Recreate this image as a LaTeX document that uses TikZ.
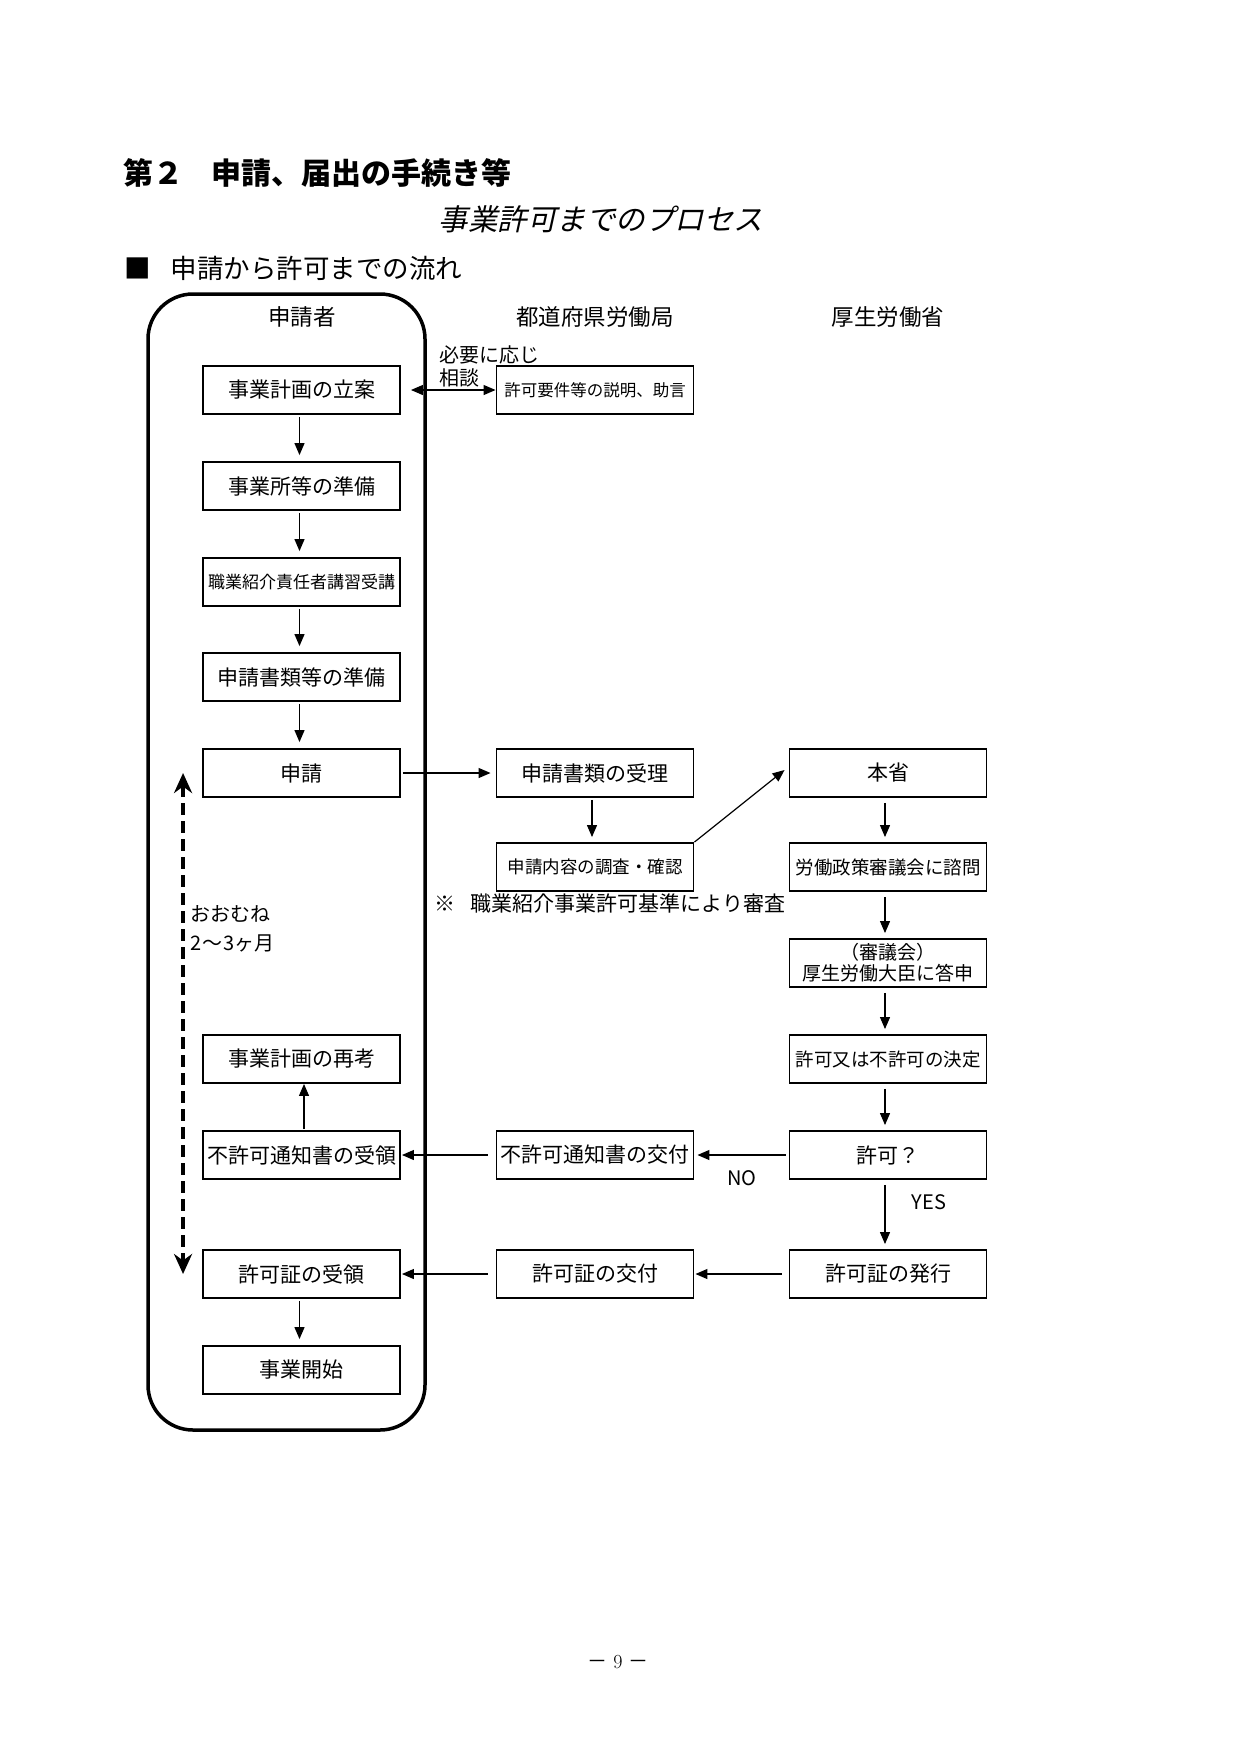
\documentclass[tikz,border=0pt]{standalone}
\usepackage{fontspec}
\newfontfamily\jp{Noto Sans CJK JP}
\newfontfamily\jpsl{Noto Sans CJK JP}[FakeSlant=0.22]
\usetikzlibrary{arrows.meta}
\begin{document}
\begin{tikzpicture}[x=1pt,y=-1pt,
  box/.style={draw, line width=1.9pt, minimum width=197pt, minimum height=48pt, inner sep=0pt, align=center, font=\jp\fontsize{21}{23}\selectfont},
  fsmall/.style={font=\jp\fontsize{17}{20}\selectfont},
  fmid/.style={font=\jp\fontsize{18.5}{21}\selectfont},
  two/.style={font=\jp\fontsize{19}{22}\selectfont},
  lbl/.style={inner sep=0pt, font=\jp\fontsize{20}{24}\selectfont},
  hdr/.style={inner sep=0pt, font=\jp\fontsize{22.5}{26}\selectfont},
  arr/.style={line width=1.2pt, -{Triangle[length=12pt,width=10pt]}},
  darr/.style={line width=1.2pt, {Triangle[length=12pt,width=10pt]}-{Triangle[length=12pt,width=10pt]}},
  dasharr/.style={line width=4.5pt, dash pattern=on 12pt off 6pt, {Stealth[length=20pt,width=18pt]}-{Stealth[length=20pt,width=18pt]}}
]
\fill[white] (0,0) rectangle (1241,1754);
\useasboundingbox (0,0) rectangle (1241,1754);

% titles
\node[anchor=west, inner sep=0pt, font=\jp\bfseries\fontsize{30}{34}\selectfont] (title) at (123,173) {第２\hspace{0.95em}申請、届出の手続き等};
\node[inner sep=0pt, font=\jpsl\fontsize{29.5}{32}\selectfont] (sub) at (601,219) {事業許可までのプロセス};
\node[anchor=west, inner sep=0pt, font=\jp\fontsize{26.5}{30}\selectfont] (sec) at (124,268) {■\hspace{0.75em}申請から許可までの流れ};

% lane
\draw[line width=3.5pt, rounded corners=45pt] (148,294) rectangle (425,1430);

% headers
\node[hdr] (h1) at (302,317) {申請者};
\node[hdr] (h2) at (595,317) {都道府県労働局};
\node[hdr] (h3) at (888,317) {厚生労働省};

% left column
\node[box] (L1) at (301.5,390) {事業計画の立案};
\node[box] (L2) at (301.5,486) {事業所等の準備};
\node[box, fsmall] (L3) at (301.5,582) {職業紹介責任者講習受講};
\node[box] (L4) at (301.5,677) {申請書類等の準備};
\node[box] (L5) at (301.5,773) {申請};
\node[box] (L6) at (301.5,1059) {事業計画の再考};
\node[box] (L7) at (301.5,1155) {不許可通知書の受領};
\node[box] (L8) at (301.5,1274) {許可証の受領};
\node[box] (L9) at (301.5,1370) {事業開始};

% middle column
\node[box, font=\jp\fontsize{16.5}{20}\selectfont] (M1) at (595,390) {許可要件等の説明、助言};
\node[box] (M2) at (595,773) {申請書類の受理};
\node[box, font=\jp\fontsize{17.5}{20}\selectfont] (M3) at (595,867) {申請内容の調査・確認};
\node[box] (M4) at (595,1155) {不許可通知書の交付};
\node[box] (M5) at (595,1274) {許可証の交付};

% right column
\node[box] (R1) at (888,773) {本省};
\node[box, fmid] (R2) at (888,867) {労働政策審議会に諮問};
\node[box, two] (R3) at (888,963) {（審議会）\\[-1pt]厚生労働大臣に答申};
\node[box, fmid] (R4) at (888,1059) {許可又は不許可の決定};
\node[box] (R5) at (888,1155) {許可？};
\node[box] (R6) at (888,1274) {許可証の発行};

% labels
\node[lbl, anchor=west] (need) at (439,355) {必要に応じ};
\node[lbl, anchor=west] (soudan) at (439,378) {相談};
\node[lbl, anchor=west, font=\jp\fontsize{21}{24}\selectfont] (note) at (434,903) {※\hspace{0.75em}職業紹介事業許可基準により審査};
\node[lbl, anchor=west] (oomune) at (190,914) {おおむね};
\node[lbl, anchor=west] (month) at (190,943) {2\hspace{1pt}〜\hspace{1pt}3ヶ月};
\node[lbl] (no) at (742,1178) {NO};
\node[lbl] (yes) at (929,1202) {YES};

% left vertical arrows
\foreach \a/\b in {L1/L2,L2/L3,L3/L4,L4/L5,L8/L9}{
  \draw[arr, shorten <=2pt, shorten >=6pt] ([xshift=-2pt]\a.south) -- ([xshift=-2pt]\b.north);
}
\draw[arr, shorten <=1pt] ([xshift=2.5pt]L7.north) -- ([xshift=2.5pt]L6.south);

% consult
\draw[darr] ([xshift=10pt]L1.east) -- (M1.west);

% application
\draw[arr] ([xshift=2pt]L5.east) -- ([xshift=-5pt]M2.west);
\draw[arr, shorten <=2pt, shorten >=5pt] ([xshift=-3pt]M2.south) -- ([xshift=-3pt]M3.north);
\draw[arr] (M3.north east) -- ([xshift=-4pt,yshift=3pt]R1.west);

% right column arrows
\foreach \a/\b in {R1/R2,R2/R3,R3/R4,R4/R5,R5/R6}{
  \draw[arr, shorten <=5pt, shorten >=5pt] ([xshift=-3pt]\a.south) -- ([xshift=-3pt]\b.north);
}

% horizontal returns
\draw[arr] ([xshift=-3pt]R5.west) -- ([xshift=3pt]M4.east);
\draw[arr] ([xshift=-8pt]M4.west) -- ([xshift=1pt]L7.east);
\draw[arr] ([xshift=-7pt]R6.west) -- ([xshift=1pt]M5.east);
\draw[arr] ([xshift=-8pt]M5.west) -- ([xshift=1pt]L8.east);

% period arrow
\draw[dasharr] ([xshift=-19pt]L5.west) -- ([xshift=-19pt]L8.west);

% page number
\node[inner sep=0pt, font=\fontsize{20}{24}\selectfont] (page) at (618,1662) {{\jp －}\ 9\ {\jp －}};
\end{tikzpicture}
\end{document}
